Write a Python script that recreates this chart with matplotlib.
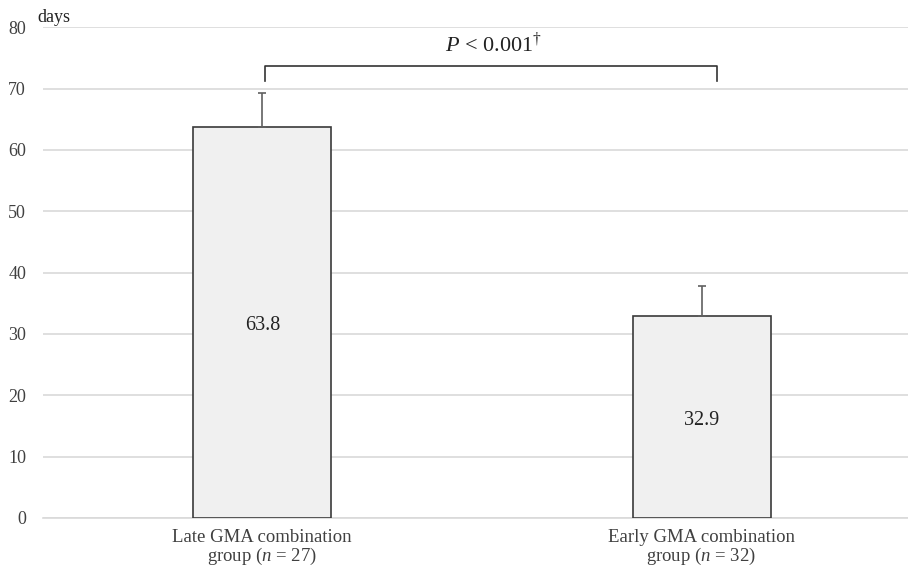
import matplotlib.pyplot as plt

# Data
groups = ['Late GMA combination\ngroup ($\\it{n}$ = 27)', 'Early GMA combination\ngroup ($\\it{n}$ = 32)']
means = [63.8, 32.9]
errors = [5.4, 4.9]
yticks = [0, 10, 20, 30, 40, 50, 60, 70, 80]

plt.rcParams['font.family'] = ['Liberation Serif', 'DejaVu Serif']
plt.rcParams['mathtext.fontset'] = 'custom'
plt.rcParams['mathtext.it'] = 'Liberation Serif:italic'
plt.rcParams['mathtext.rm'] = 'Liberation Serif'

fig = plt.figure(figsize=(9.08, 5.66), dpi=100)
ax = fig.add_axes([0.047, 0.085, 0.953, 0.867])

x = range(len(groups))
ax.bar(x, means, width=0.314, color='#f0f0f0', edgecolor='#3a3a3a', linewidth=1.2, zorder=3)
ax.errorbar(x, means, yerr=[[0, 0], errors], fmt='none', ecolor='#606060',
            elinewidth=1.2, capsize=3, capthick=1.2, zorder=4)

for xi, m in zip(x, means):
    ax.text(xi, m / 2 - 0.5, f'{m:.1f}', ha='center', va='center', fontsize=14.5, color='#222222', zorder=5)

ax.set_ylim(0, 80)
ax.set_xlim(-0.5, 1.47)
ax.set_yticks(yticks)
ax.set_xticks(list(x))
ax.set_xticklabels(groups, fontsize=13.5, color='#404040', linespacing=1.0)
ax.tick_params(axis='y', labelsize=13, labelcolor='#404040', length=0, pad=12)
ax.tick_params(axis='x', length=0, pad=8)
ax.yaxis.grid(True, color='#d9d9d9', linewidth=1.2, zorder=0)
ax.set_axisbelow(True)
for s in ['top', 'right', 'left']:
    ax.spines[s].set_visible(False)
ax.spines['bottom'].set_color('#d9d9d9')
ax.spines['bottom'].set_linewidth(1.2)

# days label
ax.text(-0.511, 81.6, 'days', fontsize=13, ha='left', va='center', color='#222222')

# significance bracket
bx0, bx1 = 0.007, 1.036
ax.plot([bx0, bx0, bx1, bx1], [71.2, 73.6, 73.6, 71.2], color='#333333', linewidth=1.2, zorder=5)
ax.text(0.527, 77.2, '$\\it{P}$ < 0.001$^{\\dagger}$', fontsize=16,
        ha='center', va='center', color='#222222')

fig.savefig('out.png', dpi=100)
